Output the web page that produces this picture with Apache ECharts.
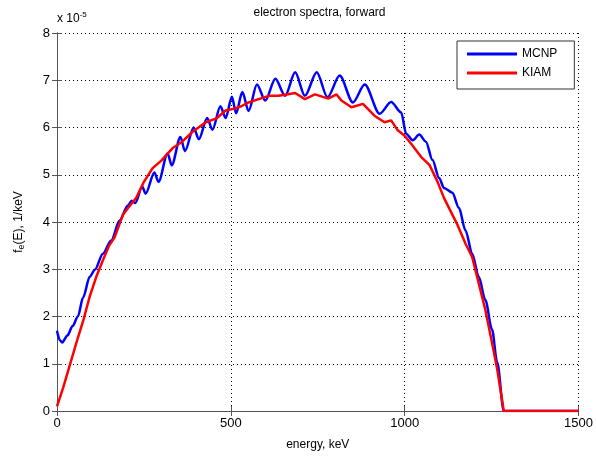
<html>
<head>
<meta charset="utf-8">
<script src="https://cdn.jsdelivr.net/npm/echarts@6/dist/echarts.min.js"></script>
<style>
  html, body { margin: 0; padding: 0; background: #fff; }
  #chart { width: 596px; height: 456px; }
</style>
</head>
<body>
<div id="chart"></div>
<script>
// values (energy in keV, f in units of 1e-5 / keV)
var mcnpE = [0, 8, 15, 30, 45, 60, 75, 94, 109, 132, 156, 180, 204, 215, 225, 245, 255, 280, 292, 318, 330, 355, 368, 393, 408, 432, 447, 470, 485, 503, 515, 533, 551, 575, 599, 628, 656, 685, 713, 747, 778, 813, 851, 885, 928, 961, 990, 1004, 1023, 1042, 1061, 1080, 1099, 1113, 1137, 1156, 1175, 1194, 1213, 1232, 1251, 1266, 1285, 1500];
var mcnpF = [1.7, 1.5, 1.45, 1.6, 1.8, 2.0, 2.4, 2.84, 2.99, 3.33, 3.61, 4.03, 4.35, 4.45, 4.4, 4.75, 4.6, 5.05, 4.85, 5.45, 5.2, 5.8, 5.5, 6.0, 5.75, 6.2, 5.95, 6.45, 6.2, 6.65, 6.3, 6.75, 6.35, 6.91, 6.57, 7.03, 6.67, 7.17, 6.67, 7.17, 6.64, 7.1, 6.53, 6.91, 6.29, 6.54, 6.32, 5.87, 5.73, 5.85, 5.7, 5.31, 4.93, 4.72, 4.62, 4.3, 3.82, 3.33, 2.84, 2.35, 1.73, 1.03, 0.0, 0.0];

var kiamE = [0, 18, 40, 60, 75, 94, 113, 132, 150, 166, 190, 210, 228, 250, 275, 300, 332, 360, 390, 428, 460, 485, 510, 530, 551, 580, 609, 637, 660, 685, 713, 742, 780, 804, 818, 847, 880, 913, 942, 961, 980, 999, 1018, 1047, 1071, 1094, 1113, 1132, 1151, 1175, 1194, 1213, 1232, 1251, 1266, 1285, 1500];
var kiamF = [0.1, 0.5, 1.05, 1.55, 1.9, 2.42, 2.84, 3.19, 3.5, 3.68, 4.16, 4.35, 4.51, 4.85, 5.14, 5.3, 5.56, 5.7, 5.91, 6.11, 6.2, 6.36, 6.4, 6.45, 6.53, 6.6, 6.67, 6.67, 6.7, 6.73, 6.6, 6.7, 6.61, 6.7, 6.57, 6.43, 6.5, 6.25, 6.11, 6.15, 5.94, 5.83, 5.66, 5.38, 5.21, 4.86, 4.51, 4.23, 3.95, 3.54, 3.26, 2.7, 2.14, 1.45, 0.89, 0.0, 0.0];

function pairs(xs, ys) {
    var out = [];
    for (var i = 0; i < xs.length; i++) out.push([xs[i], ys[i]]);
    return out;
}

var font = 'Liberation Sans, Arial, sans-serif';
var axisColor = '#555';

var chart = echarts.init(document.getElementById('chart'));

var boxAxis = {
    axisLine: { show: true, lineStyle: { color: axisColor, width: 1 } },
    axisTick: { show: true, inside: true, length: 5, lineStyle: { color: axisColor } },
    axisLabel: { show: false },
    splitLine: { show: false }
};

chart.setOption({
    animation: false,
    textStyle: { fontFamily: font },
    grid: { left: 57, right: 14, top: 33, bottom: 40, containLabel: false },
    graphic: [{
        type: 'text',
        style: {
            x: 319.5, y: 13,
            text: 'electron spectra, forward',
            font: '12px ' + font,
            fill: '#000',
            align: 'center',
            verticalAlign: 'middle'
        }
    }, {
        type: 'text',
        style: {
            x: 57, y: 19,
            text: '{a|x 10}{s|-5}',
            verticalAlign: 'middle',
            rich: {
                a: { fontSize: 12, fontFamily: font, color: '#000' },
                s: { fontSize: 8, fontFamily: font, color: '#000', verticalAlign: 'top', padding: [0, 0, 8, 0] }
            }
        }
    }],
    legend: {
        left: 457,
        top: 41,
        orient: 'vertical',
        data: [{ name: 'MCNP', icon: 'rect' }, { name: 'KIAM', icon: 'rect' }],
        itemWidth: 50,
        itemHeight: 3,
        itemGap: 7,
        padding: [7, 17, 10, 10],
        borderColor: '#333',
        borderWidth: 1,
        borderRadius: 0,
        backgroundColor: '#fff',
        textStyle: { fontSize: 12, color: '#000', fontFamily: font }
    },
    xAxis: [{
        type: 'value',
        min: 0, max: 1500, interval: 500,
        name: 'energy, keV',
        nameLocation: 'middle',
        nameGap: 28,
        nameTextStyle: { fontSize: 12, color: '#000' },
        axisLine: { show: true, onZero: false, lineStyle: { color: axisColor, width: 1 } },
        axisTick: { show: true, inside: true, length: 5, lineStyle: { color: axisColor } },
        axisLabel: { fontSize: 13, color: '#000', margin: 6, formatter: function (v) { return String(v); } },
        splitLine: { show: true, lineStyle: { color: '#000', type: [1, 3], width: 1 } }
    }, Object.assign({ type: 'value', position: 'top', min: 0, max: 1500, interval: 500 }, boxAxis)],
    yAxis: [{
        type: 'value',
        min: 0, max: 8, interval: 1,
        name: '{m|f}{s|e}{m|(E), 1/keV}',
        nameLocation: 'middle',
        nameGap: 31,
        nameRotate: 90,
        nameTextStyle: {
            color: '#000',
            rich: {
                m: { fontSize: 12, color: '#000', fontFamily: font },
                s: { fontSize: 9, color: '#000', fontFamily: font, padding: [6, 0, 0, 0] }
            }
        },
        axisLine: { show: true, onZero: false, lineStyle: { color: axisColor, width: 1 } },
        axisTick: { show: true, inside: true, length: 5, lineStyle: { color: axisColor } },
        axisLabel: { fontSize: 13, color: '#000', margin: 7 },
        splitLine: { show: true, lineStyle: { color: '#000', type: [1, 3], width: 1 } }
    }, Object.assign({ type: 'value', position: 'right', min: 0, max: 8, interval: 1 }, boxAxis)],
    series: [{
        name: 'MCNP',
        type: 'line',
        showSymbol: false,
        symbol: 'none',
        smooth: 0.3,
        smoothMonotone: 'x',
        lineStyle: { color: '#0000ff', width: 2.5 },
        itemStyle: { color: '#0000ff' },
        data: pairs(mcnpE, mcnpF)
    }, {
        name: 'KIAM',
        type: 'line',
        showSymbol: false,
        symbol: 'none',
        lineStyle: { color: '#ff0000', width: 2.5 },
        itemStyle: { color: '#ff0000' },
        data: pairs(kiamE, kiamF)
    }]
});
</script>
</body>
</html>
